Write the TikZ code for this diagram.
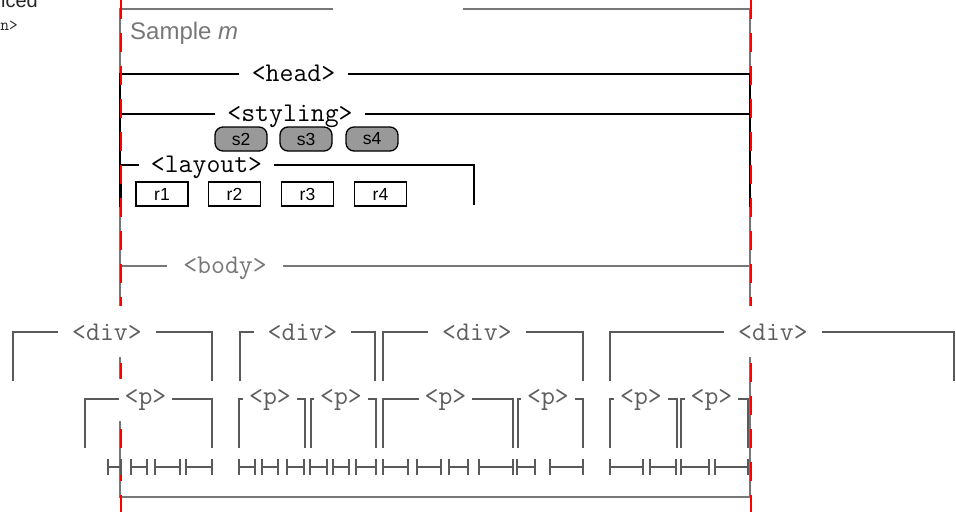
\documentclass[tikz,border=0pt]{standalone}
\usepackage{fontspec}
\setmainfont{Liberation Sans}
\definecolor{boxgray}{HTML}{777777}
\definecolor{brkgray}{HTML}{5A5A5A}
\definecolor{lblgray}{HTML}{5E5E5E}
\definecolor{pillgray}{HTML}{999999}
\begin{document}
\begin{tikzpicture}[x=1pt,y=-1pt,
  brk/.style={draw=brkgray,line width=2pt},
  topbrk/.style={draw=black,line width=2pt},
  guide/.style={draw=red,line width=2.6pt,dash pattern=on 19pt off 14pt},
  monolbl/.style={font=\ttfamily\fontsize{27}{28}\selectfont,fill=white,anchor=base,inner ysep=1pt,inner xsep=13pt},
  divlbl/.style={monolbl,text=lblgray,inner xsep=14pt,minimum height=51pt},
  plbl/.style={monolbl,text=lblgray,inner xsep=6pt,minimum height=42pt},
  pill/.style={draw=black,line width=1.3pt,fill=pillgray,rounded corners=8pt,minimum width=52pt,minimum height=24pt,inner sep=0pt,font=\fontsize{17.5}{18}\selectfont},
  rbox/.style={draw=black,line width=1.3pt,fill=white,minimum width=52pt,minimum height=24pt,inner sep=0pt,font=\fontsize{17.5}{18}\selectfont}]
\useasboundingbox (0,0) rectangle (956,512);
% clipped top-left texts
\node[anchor=base east,inner sep=0pt,text=black!85,font=\fontsize{20}{20}\selectfont] (cut1) at (38,7) {iced};
\node[anchor=base east,inner sep=0pt,text=black!85,font=\ttfamily\fontsize{17}{17}\selectfont] (cut2) at (18,30) {n>};
% sample box
\draw[draw=boxgray,line width=2pt] (333,9) -- (120,9) -- (120,497) -- (750,497) -- (750,9) -- (463,9);
\node[anchor=base west,inner sep=0pt,text=boxgray,font=\fontsize{24}{24}\selectfont] (title) at (130,39) {Sample \textit{m}};
% top brackets
\draw[topbrk] (120,207) -- (120,74) -- (750,74) -- (750,207);
\draw[topbrk] (120,155) -- (120,114) -- (750,114) -- (750,155);
\draw[topbrk] (121,207) -- (121,165) -- (474,165) -- (474,205);
\draw[draw=boxgray,line width=2pt] (120,266) -- (750,266);
% red guides
\draw[guide] (121,0) -- (121,512);
\draw[guide] (751,0) -- (751,512);
% top labels
\node[monolbl] (head) at (293.5,81) {<head>};
\node[monolbl,inner xsep=12pt] (styling) at (290,121) {<styling>};
\node[monolbl,inner xsep=12pt] (layout) at (206.5,172) {<layout>};
\node[monolbl,text=boxgray,inner xsep=16pt] (body) at (225,273) {<body>};
% pills and boxes
\node[pill] (s2) at (241,139) {s2};
\node[pill] (s3) at (306,139) {s3};
\node[pill] (s4) at (372,139) {s4};
\node[rbox] (r1) at (162,194) {r1};
\node[rbox] (r2) at (234.5,194) {r2};
\node[rbox] (r3) at (307.5,194) {r3};
\node[rbox] (r4) at (380.5,194) {r4};
% div brackets
\foreach \l/\r in {13/212,240/375,383/583,610/954}
  \draw[brk] (\l,381) -- (\l,332) -- (\r,332) -- (\r,381);
% p brackets
\foreach \l/\r in {85/212,239/305,311/376,383/513,518/583,610/677,681/748}
  \draw[brk] (\l,448) -- (\l,399) -- (\r,399) -- (\r,448);
% span markers
\foreach \a/\b in {108/121,131/147,155/180,186/212,239/255,262/278,287/304,310/327,333/349,356/376,383/408,417/441,449/468,479/513,517/535,550/583,610/643,650/676,681/709,715/748}
  \draw[brk] (\a,459) -- (\a,475) (\a,467) -- (\b,467) (\b,459) -- (\b,475);
% div labels
\node[divlbl] (div1) at (107,340) {<div>};
\node[divlbl] (div2) at (302.5,340) {<div>};
\node[divlbl] (div3) at (477,340) {<div>};
\node[divlbl] (div4) at (773,340) {<div>};
% p labels
\node[plbl] (p1) at (145.5,404) {<p>};
\node[plbl] (p2) at (270,404) {<p>};
\node[plbl] (p3) at (341,404) {<p>};
\node[plbl] (p4) at (445.5,404) {<p>};
\node[plbl] (p5) at (548,404) {<p>};
\node[plbl] (p6) at (641,404) {<p>};
\node[plbl] (p7) at (711.5,404) {<p>};
\end{tikzpicture}
\end{document}
